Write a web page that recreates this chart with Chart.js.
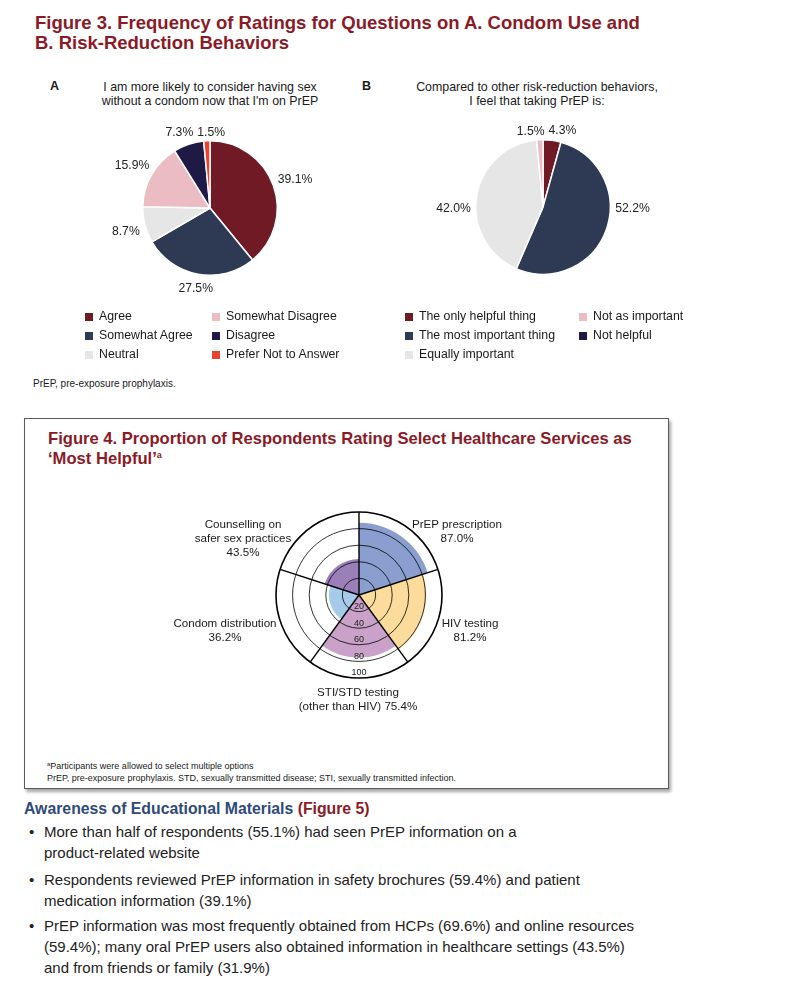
<!DOCTYPE html>
<html>
<head>
<meta charset="utf-8">
<script src="https://cdn.jsdelivr.net/npm/chart.js@4.4.0/dist/chart.umd.min.js"></script>
<style>
html,body{margin:0;padding:0;background:#fff;}
body{width:793px;height:983px;position:relative;overflow:hidden;font-family:"Liberation Sans",Arial,Helvetica,sans-serif;color:#1a1a1a;}
.abs{position:absolute;white-space:nowrap;}
.t3{left:35px;top:13px;font-weight:bold;font-size:18.5px;line-height:20px;color:#8b1a26;}
.panel{font-weight:bold;font-size:12.5px;line-height:14px;top:79px;}
.sub{font-size:12.4px;line-height:14px;top:80px;width:320px;text-align:center;}
.leg{font-size:12.3px;line-height:19px;}
.leg .it{position:relative;padding-left:14px;height:19px;}
.leg .sw{position:absolute;left:0;top:6px;width:8px;height:8px;}
.fn{font-size:10px;line-height:12px;}
.box{left:24px;top:418px;width:645px;height:371px;box-sizing:border-box;border:1px solid #5a5a5a;box-shadow:2px 3px 3px rgba(0,0,0,0.35);background:#fff;}
.t4{left:48px;top:429px;font-weight:bold;font-size:16.6px;line-height:20px;color:#8b1a26;}
.t4 sup{font-size:9px;vertical-align:6px;line-height:0;}
.pl{font-size:11.6px;line-height:14px;text-align:center;width:200px;}
.fn2{left:47px;top:760px;font-size:9px;line-height:12px;}
.fn2 sup{font-size:6px;vertical-align:3px;line-height:0;}
.aw{left:24px;top:800px;font-weight:bold;font-size:15.8px;line-height:18px;color:#2f4a7a;}
.aw span{color:#8b1a26;}
.bul{left:29px;font-size:15px;line-height:21px;color:#222;}
.bul .dot{position:absolute;left:0;top:0;}
.bul .tx{position:absolute;left:15px;top:0;}
canvas{position:absolute;}
</style>
</head>
<body>

<script>
// ---------- DATA ----------
const pieACategories = ["Agree", "Somewhat Agree", "Neutral", "Somewhat Disagree", "Disagree", "Prefer Not to Answer"];
const pieAValues = [39.1, 27.5, 8.7, 15.9, 7.3, 1.5];

const pieBCategories = ["The only helpful thing", "The most important thing", "Equally important", "Not as important", "Not helpful"];
const pieBValues = [4.3, 52.2, 42.0, 1.5, 0];

const polarCategories = ["PrEP prescription", "HIV testing", "STI/STD testing (other than HIV)", "Condom distribution", "Counselling on safer sex practices"];
const polarValues = [87.0, 81.2, 75.4, 36.2, 43.5];
const polarTickLabels = [20, 40, 60, 80, 100];

// ---------- STYLES ----------
const pieAColors = ["#701a26", "#2e3a53", "#e6e6e6", "#ecbcc5", "#1e1a45", "#e8432c"];
const pieBColors = ["#701a26", "#2e3a53", "#e6e6e6", "#ecbcc5", "#1e1a45"];
const polarColors = ["#8a9fcf", "#fbdc9d", "#c9a1c9", "#a6caea", "#9a7fb8"];
</script>

<div class="abs t3">Figure 3. Frequency of Ratings for Questions on A. Condom Use and<br>B. Risk-Reduction Behaviors</div>

<div class="abs panel" style="left:50px;">A</div>
<div class="abs panel" style="left:362px;">B</div>
<div class="abs sub" style="left:50px;">I am more likely to consider having sex<br>without a condom now that I'm on PrEP</div>
<div class="abs sub" style="left:377px;">Compared to other risk-reduction behaviors,<br>I feel that taking PrEP is:</div>

<canvas id="pieA" width="280" height="200" style="left:70px;top:108px;"></canvas>
<canvas id="pieB" width="280" height="200" style="left:403px;top:107px;"></canvas>

<div id="legA1" class="abs leg" style="left:85px;top:307px;"></div>
<div id="legA2" class="abs leg" style="left:212px;top:307px;"></div>
<div id="legB1" class="abs leg" style="left:405px;top:307px;"></div>
<div id="legB2" class="abs leg" style="left:579px;top:307px;"></div>

<div class="abs fn" style="left:33px;top:378px;">PrEP, pre-exposure prophylaxis.</div>

<div class="abs box"></div>
<div class="abs t4">Figure 4. Proportion of Respondents Rating Select Healthcare Services as<br>‘Most Helpful’<sup>a</sup></div>

<canvas id="polar" width="240" height="240" style="left:239px;top:475px;"></canvas>

<div class="abs pl" style="left:143px;top:517px;">Counselling on<br>safer sex practices<br>43.5%</div>
<div class="abs pl" style="left:357px;top:517px;">PrEP prescription<br>87.0%</div>
<div class="abs pl" style="left:370px;top:616px;">HIV testing<br>81.2%</div>
<div class="abs pl" style="left:258px;top:685px;">STI/STD testing<br>(other than HIV) 75.4%</div>
<div class="abs pl" style="left:125px;top:616px;">Condom distribution<br>36.2%</div>

<div class="abs fn2"><sup>a</sup>Participants were allowed to select multiple options<br>PrEP, pre-exposure prophylaxis. STD, sexually transmitted disease; STI, sexually transmitted infection.</div>

<div class="abs aw">Awareness of Educational Materials <span>(Figure 5)</span></div>

<div class="abs bul" style="top:821px;"><span class="dot">•</span><span class="tx">More than half of respondents (55.1%) had seen PrEP information on a<br>product-related website</span></div>
<div class="abs bul" style="top:869px;"><span class="dot">•</span><span class="tx">Respondents reviewed PrEP information in safety brochures (59.4%) and patient<br>medication information (39.1%)</span></div>
<div class="abs bul" style="top:915px;"><span class="dot">•</span><span class="tx">PrEP information was most frequently obtained from HCPs (69.6%) and online resources<br>(59.4%); many oral PrEP users also obtained information in healthcare settings (43.5%)<br>and from friends or family (31.9%)</span></div>

<script>
function buildLegend(id, names, colors) {
  const el = document.getElementById(id);
  names.forEach((n, i) => {
    const d = document.createElement('div');
    d.className = 'it';
    d.innerHTML = '<span class="sw" style="background:' + colors[i] + '"></span>' + n;
    el.appendChild(d);
  });
}
buildLegend('legA1', pieACategories.slice(0, 3), pieAColors.slice(0, 3));
buildLegend('legA2', pieACategories.slice(3), pieAColors.slice(3));
buildLegend('legB1', pieBCategories.slice(0, 3), pieBColors.slice(0, 3));
buildLegend('legB2', pieBCategories.slice(3), pieBColors.slice(3));

const FONT = '"Liberation Sans", Arial, sans-serif';

const pieLabelPlugin = {
  id: 'pieLabels',
  afterDatasetsDraw(chart) {
    const meta = chart.getDatasetMeta(0);
    const data = chart.data.datasets[0].data;
    const ctx = chart.ctx;
    ctx.save();
    ctx.font = '12.2px ' + FONT;
    ctx.fillStyle = '#222';
    ctx.textAlign = 'center';
    ctx.textBaseline = 'middle';
    const items = [];
    meta.data.forEach((arc, i) => {
      if (!data[i]) return;
      const p = arc.getProps(['x', 'y', 'startAngle', 'endAngle', 'outerRadius'], true);
      let mid = (p.startAngle + p.endAngle) / 2;
      // large slices spanning a horizontal side: label sits level with the centre (best-fit style)
      if (data[i] > 40) {
        if (p.startAngle < 0 && p.endAngle > 0) mid = 0;
        else if (p.startAngle < Math.PI && p.endAngle > Math.PI) mid = Math.PI;
      }
      const txt = data[i].toFixed(1) + '%';
      const w = ctx.measureText(txt).width, h = 10;
      const c = Math.cos(mid), s = Math.sin(mid);
      const d = p.outerRadius + 5 + Math.abs(c) * w / 2 + Math.abs(s) * h / 2;
      items.push({ txt, x: p.x + c * d, y: p.y + s * d + 2, w, h });
    });
    for (let k = 0; k < 3; k++) {
      for (let i = 0; i < items.length; i++) {
        for (let j = i + 1; j < items.length; j++) {
          const a = items[i], b = items[j];
          const need = (a.w + b.w) / 2 + 4;
          const dx = Math.abs(a.x - b.x);
          if (Math.abs(a.y - b.y) < a.h + 2 && dx < need) {
            const sh = (need - dx) / 2;
            if (a.x >= b.x) { a.x += sh; b.x -= sh; } else { a.x -= sh; b.x += sh; }
          }
        }
      }
    }
    items.forEach(it => ctx.fillText(it.txt, it.x, it.y));
    ctx.restore();
  }
};

function makePie(id, labels, values, colors) {
  new Chart(document.getElementById(id), {
    type: 'pie',
    data: { labels: labels, datasets: [{ data: values, backgroundColor: colors, borderColor: '#fff', borderWidth: 1.5 }] },
    options: {
      responsive: false,
      animation: false,
      layout: { padding: { left: 72, right: 72, top: 32, bottom: 32 } },
      plugins: { legend: { display: false }, tooltip: { enabled: false } }
    },
    plugins: [pieLabelPlugin]
  });
}
makePie('pieA', pieACategories, pieAValues, pieAColors);
makePie('pieB', pieBCategories, pieBValues, pieBColors);

const polarTickPlugin = {
  id: 'polarTicks',
  afterDraw(chart) {
    const s = chart.scales.r;
    const ctx = chart.ctx;
    ctx.save();
    ctx.font = '9px ' + FONT;
    ctx.fillStyle = '#222';
    ctx.textAlign = 'center';
    ctx.textBaseline = 'middle';
    polarTickLabels.forEach(v => {
      const d = s.getDistanceFromCenterForValue(v);
      ctx.fillText(String(v), s.xCenter, s.yCenter + d - 5);
    });
    ctx.restore();
  }
};

new Chart(document.getElementById('polar'), {
  type: 'polarArea',
  data: { labels: polarCategories, datasets: [{ data: polarValues, backgroundColor: polarColors, borderWidth: 0 }] },
  options: {
    responsive: false,
    animation: false,
    layout: { padding: 37 },
    plugins: { legend: { display: false }, tooltip: { enabled: false } },
    scales: {
      r: {
        min: 0, max: 100,
        ticks: { display: false, stepSize: 20 },
        grid: { z: 1, color: '#000', lineWidth: (c) => (c.tick && c.tick.value === 100 ? 1.6 : 0.8) },
        angleLines: { display: true, color: '#000', lineWidth: 1.4 },
        pointLabels: { display: false }
      }
    }
  },
  plugins: [polarTickPlugin]
});
</script>
</body>
</html>
